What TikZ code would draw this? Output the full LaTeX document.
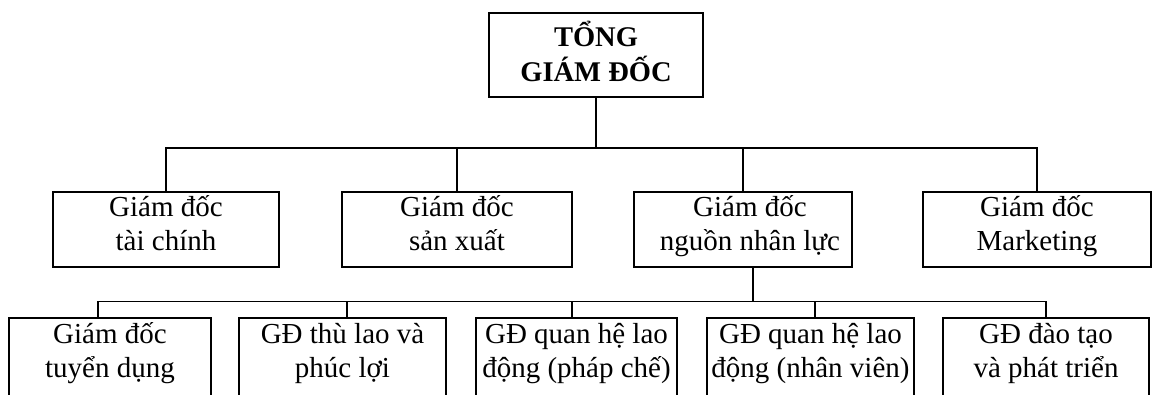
\documentclass[tikz,border=0pt]{standalone}
\usepackage{fontspec}
\setmainfont{Liberation Serif}
\usetikzlibrary{calc}
\begin{document}
\begin{tikzpicture}[x=1pt,y=-1pt,line width=1.4pt,
  box/.style={draw,rectangle,inner sep=0pt,minimum height=#1},
  box/.default=75pt,
  txt/.style={anchor=base,inner sep=0pt,font=\fontsize{29}{34}\selectfont},
  ttl/.style={anchor=base,inner sep=0pt,font=\bfseries\fontsize{28.5}{35}\selectfont},
  link/.style={draw,line width=1.4pt}]
\fill[white] (0,0) rectangle (1162,394);
\useasboundingbox (0,0) rectangle (1162,394);
\clip (0,0) rectangle (1162,394);
\newcommand\twolines[6]{%
  \node[txt] (#1a) at ($(#1.north)+(#2,#3)$) {#5};
  \node[txt] (#1b) at ($(#1.north)+(#2,#4)$) {#6};}
% top
\node[box=84pt,line width=2.2pt,minimum width=214pt] (ceo) at (596,55) {};
\node[ttl] (ceoa) at ($(ceo.north)+(0,35)$) {TỔNG};
\node[ttl] (ceob) at ($(ceo.north)+(0,70)$) {GIÁM ĐỐC};
% second tier
\node[box,minimum width=226pt] (d1) at (166,229.5) {};
\node[box,minimum width=230pt] (d2) at (457,229.5) {};
\node[box,minimum width=218pt] (d3) at (743,229.5) {};
\node[box,minimum width=228pt] (d4) at (1037,229.5) {};
\twolines{d1}{0}{25}{59}{Giám đốc}{tài chính}
\twolines{d2}{0}{25}{59}{Giám đốc}{sản xuất}
\twolines{d3}{7}{25}{59}{Giám đốc}{nguồn nhân lực}
\twolines{d4}{0}{25}{59}{Giám đốc}{Marketing}
% third tier
\node[box=120pt,minimum width=202pt] (b1) at (110,378) {};
\node[box=120pt,minimum width=207pt] (b2) at (342.5,378) {};
\node[box=120pt,minimum width=201pt] (b3) at (576.5,378) {};
\node[box=120pt,minimum width=207pt] (b4) at (810.5,378) {};
\node[box=120pt,minimum width=206pt] (b5) at (1046,378) {};
\twolines{b1}{0}{26}{60}{Giám đốc}{tuyển dụng}
\twolines{b2}{0}{26}{60}{GĐ thù lao và}{phúc lợi}
\twolines{b3}{0}{26}{60}{GĐ quan hệ lao}{động (pháp chế)}
\twolines{b4}{0}{26}{60}{GĐ quan hệ lao}{động (nhân viên)}
\twolines{b5}{0}{26}{60}{GĐ đào tạo}{và phát triển}
% connectors level 1
\coordinate (j1) at ($(ceo.south)+(0,50)$);
\path[link] (ceo.south) -- (j1);
\path[link] (d1.north) |- (d4.north |- j1) -- (d4.north);
\path[link] (d2.north) -- (d2.north |- j1);
\path[link] (d3.north) -- (d3.north |- j1);
% connectors level 2
\coordinate (s3) at ([xshift=10pt]d3.south);
\coordinate (j2) at ($(s3)+(0,34)$);
\coordinate (c1) at ([xshift=-12pt]b1.north);
\coordinate (c2) at ([xshift=4.5pt]b2.north);
\coordinate (c3) at ([xshift=-4.5pt]b3.north);
\coordinate (c4) at ([xshift=4.5pt]b4.north);
\path[link] (s3) -- (j2);
\path[link] (c1) |- (b5.north |- j2) -- (b5.north);
\path[link] (c2) -- (c2 |- j2);
\path[link] (c3) -- (c3 |- j2);
\path[link] (c4) -- (c4 |- j2);
\end{tikzpicture}
\end{document}
